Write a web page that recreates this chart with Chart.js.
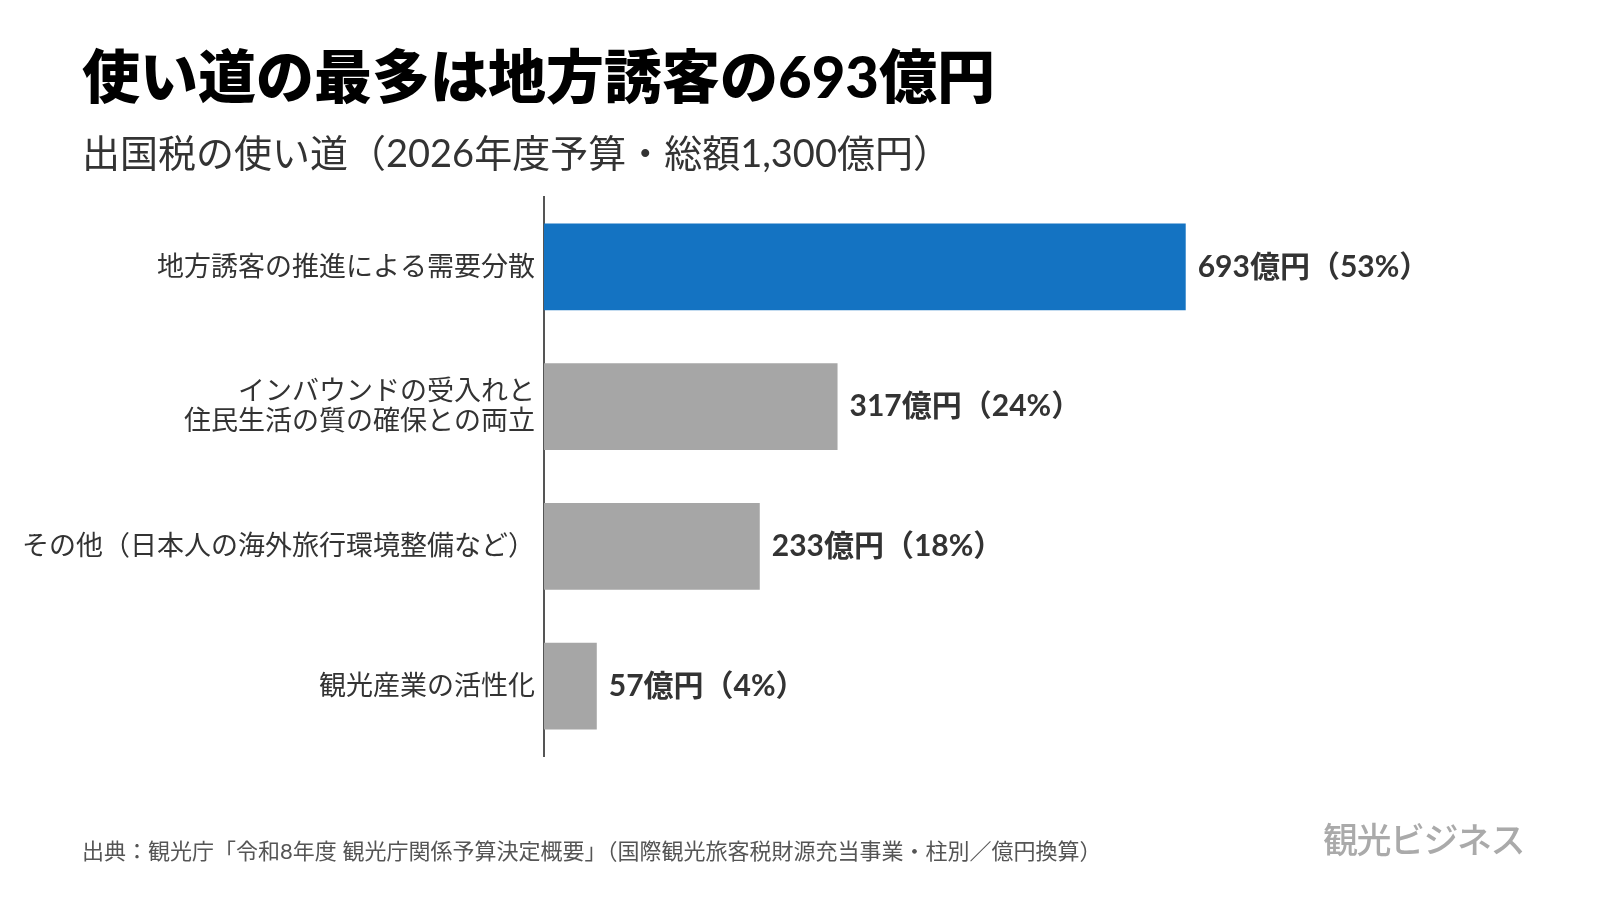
<!DOCTYPE html>
<html lang="ja">
<head>
<meta charset="utf-8">
<title>出国税の使い道</title>
<script src="https://cdn.jsdelivr.net/npm/chart.js@4"></script>
<style>
  body { margin: 0; background: #fff; font-family: Lato, "Noto Sans CJK JP", sans-serif; }
  #wrap { position: relative; width: 1600px; height: 900px; overflow: hidden; }
  .txt { position: absolute; white-space: nowrap; line-height: 1; }
  #title { left: 82px; top: 47px; font-size: 58px; font-weight: 900; color: #000; }
  #sub { left: 82px; top: 133px; font-size: 38px; color: #333; }
  #src { left: 82px; top: 840px; font-size: 22px; color: #555; }
  #logo { left: 1323px; top: 822px; font-size: 35px; color: #aaa; font-weight: 500; letter-spacing: -1.5px; }
  canvas { position: absolute; left: 0; top: 0; }
</style>
</head>
<body>
<div id="wrap">
  <canvas id="chart" width="1600" height="900"></canvas>
  <div class="txt" id="title">使い道の最多は地方誘客の693億円</div>
  <div class="txt" id="sub">出国税の使い道（2026年度予算・総額1,300億円）</div>
  <div class="txt" id="src">出典：観光庁「令和8年度 観光庁関係予算決定概要」（国際観光旅客税財源充当事業・柱別／億円換算）</div>
  <div class="txt" id="logo">観光ビジネス</div>
</div>
<script>
"use strict";

const categories = [
  "地方誘客の推進による需要分散",
  ["インバウンドの受入れと", "住民生活の質の確保との両立"],
  "その他（日本人の海外旅行環境整備など）",
  "観光産業の活性化"
];
const amounts = [693, 317, 233, 57];
const shares = [53, 24, 18, 4];
const barColors = ["#1473c2", "#a6a6a6", "#a6a6a6", "#a6a6a6"];

const fontFamily = "Lato, 'Noto Sans CJK JP', sans-serif";

// value labels to the right of each bar
const valueLabels = {
  id: "valueLabels",
  afterDatasetsDraw(chart) {
    const ctx = chart.ctx;
    const meta = chart.getDatasetMeta(0);
    ctx.save();
    ctx.font = "bold 30px " + fontFamily;
    ctx.fillStyle = "#333";
    ctx.textBaseline = "middle";
    ctx.textAlign = "left";
    for (let i = 0; i < meta.data.length; i++) {
      const bar = meta.data[i];
      ctx.fillText(amounts[i] + "億円（" + shares[i] + "%）", bar.x + 12, bar.y);
    }
    ctx.restore();
  }
};

const data = {
  labels: categories,
  datasets: [
    {
      data: amounts,
      backgroundColor: barColors,
      borderWidth: 0,
      barPercentage: 0.62,
      categoryPercentage: 1,
    },
  ],
};

const config = {
  type: "bar",
  data: data,
  options: {
    indexAxis: "y",
    responsive: false,
    animation: false,
    layout: { padding: { left: 0, top: 197, right: 130, bottom: 144 } },
    plugins: {
      legend: { display: false },
      tooltip: { enabled: false },
    },
    scales: {
      x: { display: false, min: 0, max: 1000 },
      y: {
        grid: { display: false, drawTicks: false },
        border: { display: true, color: "#555", width: 2 },
        ticks: {
          color: "#333",
          padding: 9,
          font: { family: fontFamily, size: 27, lineHeight: 1.1 },
        },
        afterFit(scale) {
          scale.width = 544;
        },
      },
    },
  },
  plugins: [valueLabels],
};

const myChart = new Chart(document.getElementById("chart"), config);
</script>
</body>
</html>
